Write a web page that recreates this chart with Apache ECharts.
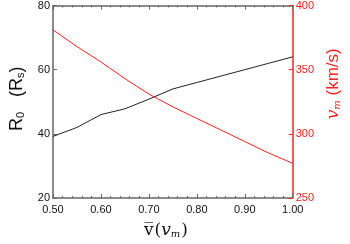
<!DOCTYPE html>
<html><head><meta charset="utf-8">
<script src="https://cdn.jsdelivr.net/npm/echarts@6/dist/echarts.min.js"></script>
<style>html,body{margin:0;padding:0;background:#fff}#c{width:350px;height:244px}</style>
</head><body><div id="c"></div>
<script>
var xValues = [0.50,0.55,0.60,0.65,0.70,0.75,0.80,0.85,0.90,0.95,1.00];
var r0Values = [39.2,42.0,46.0,47.8,50.8,54.0,56.0,58.0,60.0,62.0,64.0];
var vmValues = [381,368,356,343,331,321,312,303,294,285,277];
var leftTicks = [20,40,60,80];
var rightTicks = [250,300,350,400];

var chart = echarts.init(document.getElementById('c'));
var fontFam = 'Liberation Sans, Arial, sans-serif';
chart.setOption({
  animation:false,
  grid:{left:34,right:37,top:5,bottom:33},
  xAxis:[{
    type:'value',min:0.5,max:1.0,interval:0.1,
    axisLine:{lineStyle:{color:'#666',width:1.5}},
    axisTick:{inside:true,length:4,lineStyle:{color:'#666'}},
    minorTick:{show:true,splitNumber:5,length:2,lineStyle:{color:'#666'}},
    splitLine:{show:false},
    axisLabel:{color:'#111',fontSize:11,fontFamily:fontFam,margin:6,formatter:function(v){return v.toFixed(2);}},
    name:'{a|v\u0305}{b|(}{c|v}{d|m}{b|)}',nameLocation:'middle',nameGap:24,
    nameTextStyle:{padding:[0,14,0,0],rich:{
      a:{fontFamily:'DejaVu Serif',fontSize:17,color:'#111'},
      b:{fontFamily:'DejaVu Serif',fontSize:17,color:'#111',padding:[0,0,0,1]},
      c:{fontFamily:'DejaVu Serif',fontStyle:'italic',fontSize:17,color:'#111'},
      d:{fontFamily:'DejaVu Serif',fontStyle:'italic',fontSize:10,color:'#111',verticalAlign:'bottom',padding:[7,0,0,0]}
    }}
  },{
    type:'value',position:'top',min:0.5,max:1.0,interval:0.1,
    axisLine:{lineStyle:{color:'#666',width:1.5}},
    axisTick:{inside:true,length:4,lineStyle:{color:'#666'}},
    minorTick:{show:true,splitNumber:5,length:2,lineStyle:{color:'#666'}},
    splitLine:{show:false},axisLabel:{show:false}
  }],
  yAxis:[{
    type:'value',min:20,max:80,interval:20,position:'left',
    axisLine:{show:true,lineStyle:{color:'#666',width:1.5}},
    axisTick:{show:true,inside:true,length:4,lineStyle:{color:'#666'}},
    splitLine:{show:false},
    axisLabel:{color:'#111',fontSize:11,fontFamily:fontFam,margin:3},
    name:'{a|R}{s|0}{a|   (R}{s|s}{a|)}',nameLocation:'middle',nameGap:27,
    nameTextStyle:{padding:[0,0,0,6],rich:{
      a:{fontFamily:fontFam,fontSize:18,color:'#111'},
      s:{fontFamily:fontFam,fontSize:11,color:'#111',verticalAlign:'bottom',padding:[6,0,0,0]}
    }}
  },{
    type:'value',min:250,max:400,interval:50,position:'right',
    axisLine:{show:true,lineStyle:{color:'#ff2020',width:1.5}},
    axisTick:{show:true,inside:true,length:4,lineStyle:{color:'#ff2020'}},
    splitLine:{show:false},
    axisLabel:{color:'#ff2020',fontSize:11,fontFamily:fontFam,margin:3},
    name:'{c|v}{d|m}{a| (km/s)}',nameLocation:'middle',nameGap:30,
    nameTextStyle:{padding:[0,0,0,36],rich:{
      a:{fontFamily:fontFam,fontSize:17,color:'#ff2020'},
      c:{fontFamily:'DejaVu Serif',fontStyle:'italic',fontSize:17,color:'#ff2020'},
      d:{fontFamily:'DejaVu Serif',fontStyle:'italic',fontSize:10,color:'#ff2020',verticalAlign:'bottom',padding:[7,0,0,0]}
    }}
  }],
  series:[{
    type:'line',xAxisIndex:0,yAxisIndex:0,showSymbol:false,
    data:xValues.map(function(x,i){return [x,r0Values[i]];}),
    lineStyle:{color:'#222',width:1}
  },{
    type:'line',xAxisIndex:0,yAxisIndex:1,showSymbol:false,
    data:xValues.map(function(x,i){return [x,vmValues[i]];}),
    lineStyle:{color:'#ff2020',width:1}
  }]
});
</script></body></html>
